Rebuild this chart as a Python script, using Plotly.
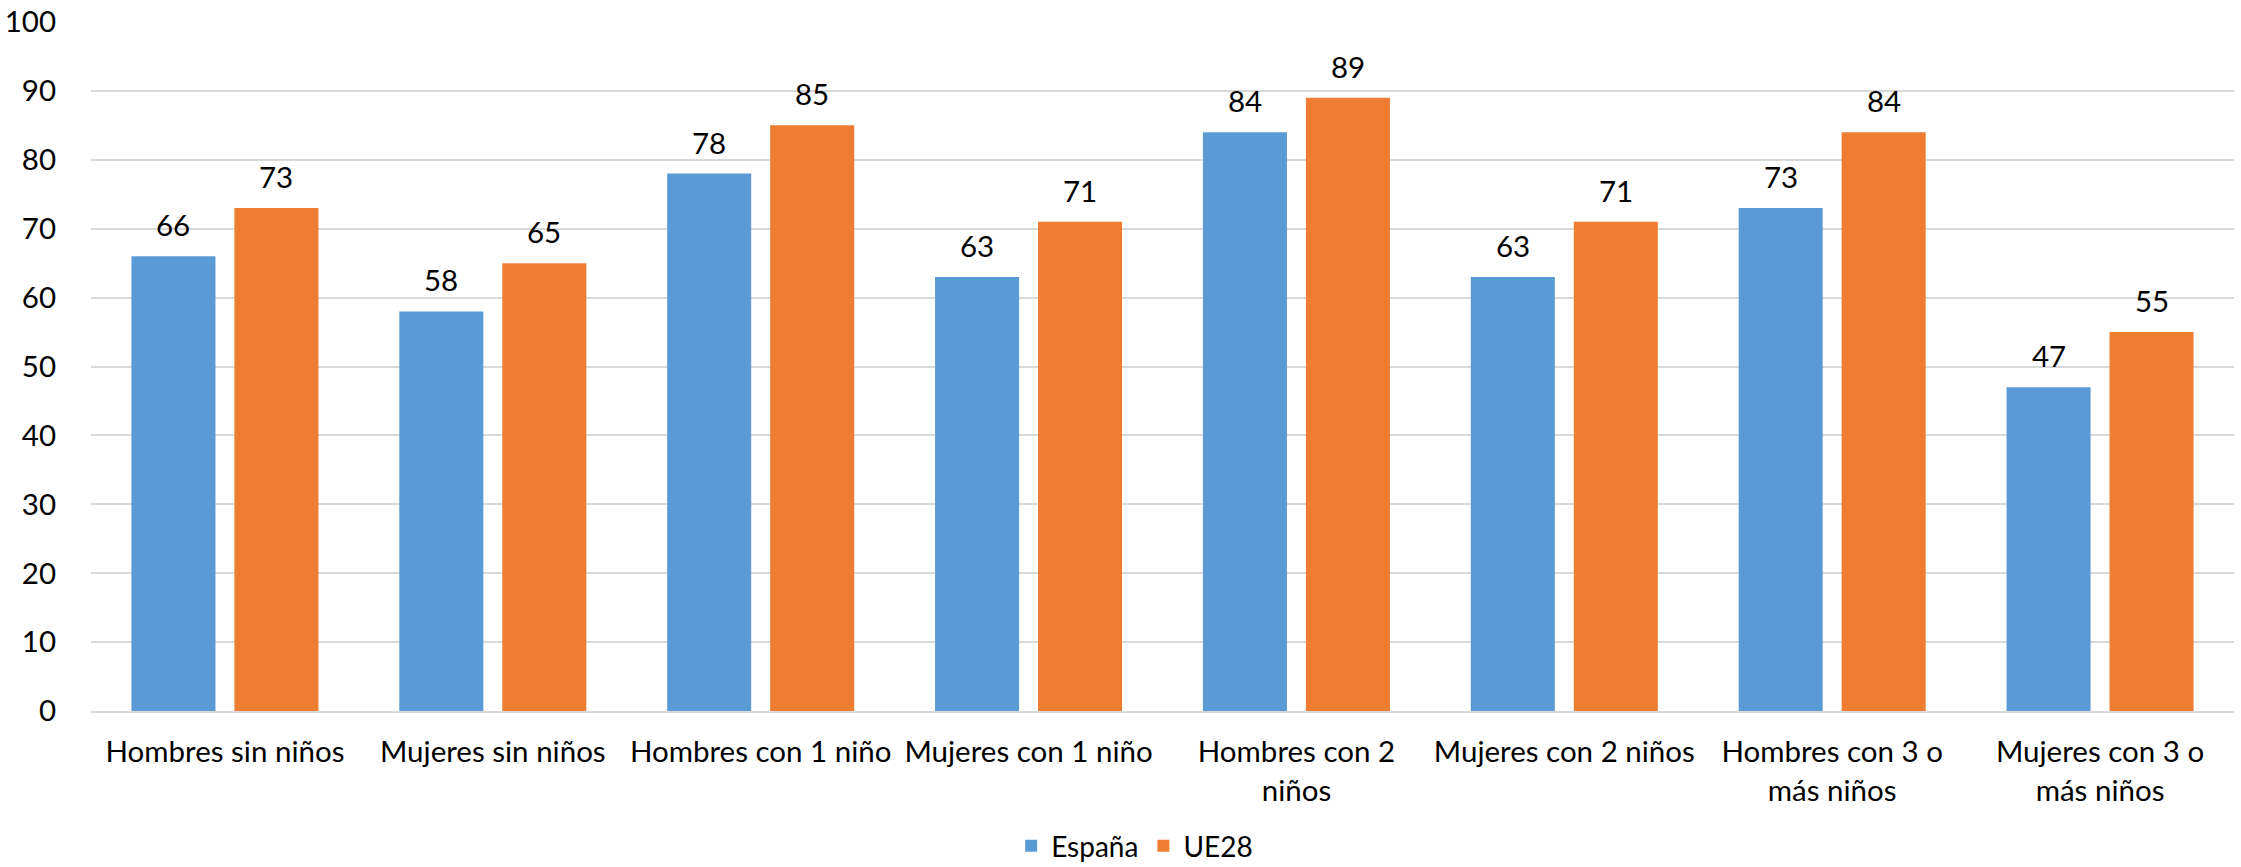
import plotly.graph_objects as go

categories = [
    "Hombres sin niños",
    "Mujeres sin niños",
    "Hombres con 1 niño",
    "Mujeres con 1 niño",
    "Hombres con 2<br>niños",
    "Mujeres con 2 niños",
    "Hombres con 3 o<br>más niños",
    "Mujeres con 3 o<br>más niños",
]
espana = [66, 58, 78, 63, 84, 63, 73, 47]
ue28 = [73, 65, 85, 71, 89, 71, 84, 55]
y_ticks = [0, 10, 20, 30, 40, 50, 60, 70, 80, 90, 100]

FONT = "Lato, 'Open Sans', sans-serif"
FS = 29.5
BLUE = "#5B9BD5"
ORANGE = "#EE7D31"

fig = go.Figure()
fig.add_trace(go.Bar(name="España", x=categories, y=espana,
                     marker=dict(color=BLUE, line=dict(width=0))))
fig.add_trace(go.Bar(name="UE28", x=categories, y=ue28,
                     marker=dict(color=ORANGE, line=dict(width=0))))

# value labels above each bar
annotations = []
for series, shift in ((espana, -51.5), (ue28, 51.5)):
    for cat, val in zip(categories, series):
        annotations.append(dict(
            x=cat, y=val, xref="x", yref="y", text=str(val),
            showarrow=False, xshift=shift, yshift=12, yanchor="bottom",
            font=dict(family=FONT, size=FS, color="#000000"),
        ))

fig.update_layout(
    width=2241, height=867,
    margin=dict(l=91, r=7, t=22, b=156, autoexpand=False),
    paper_bgcolor="white", plot_bgcolor="white",
    barmode="group", bargap=0.231, bargroupgap=0.184,
    font=dict(family=FONT, size=FS, color="#000000"),
    showlegend=True,
    legend=dict(orientation="h", x=0.487, y=-0.196, xanchor="center", yanchor="middle",
                font=dict(family=FONT, size=28, color="#000000"),
                itemwidth=30, tracegroupgap=0, borderwidth=0),
    annotations=annotations,
    xaxis=dict(
        automargin=False,
        showgrid=False, showline=True, linecolor="#D9D9D9", linewidth=2,
        ticks="outside", ticklen=14, tickcolor="rgba(0,0,0,0)",
        tickfont=dict(family=FONT, size=FS, color="#000000"),
        tickangle=0,
    ),
    yaxis=dict(
        automargin=False,
        range=[0, 100], tickvals=y_ticks, showgrid=True, gridcolor="#D9D9D9", gridwidth=2,
        zeroline=False, showline=False,
        ticks="outside", ticklen=28, tickcolor="rgba(0,0,0,0)",
        tickfont=dict(family=FONT, size=FS, color="#000000"),
    ),
)

fig.write_html("out.html")
